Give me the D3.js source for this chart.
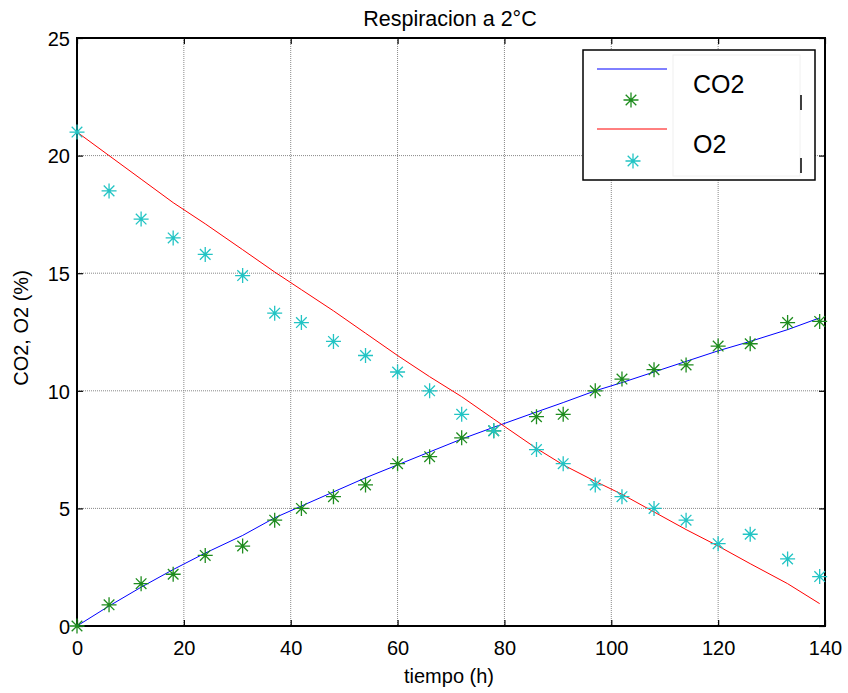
<!DOCTYPE html>
<html><head><meta charset="utf-8">
<script src="https://cdn.jsdelivr.net/npm/d3@7"></script>
<style>body{margin:0;background:#fff}svg{display:block}text{font-family:"Liberation Sans",Arial,sans-serif}</style>
</head><body>
<script>
const tPoints = [0,6,12,18,24,31,37,42,48,54,60,66,72,78,86,91,97,102,108,114,120,126,133,139];
const co2Measured = [0,0.9,1.8,2.2,3.0,3.4,4.5,5.0,5.5,6.0,6.9,7.2,8.0,8.3,8.9,9.0,10.0,10.5,10.9,11.1,11.9,12.0,12.9,12.95];
const o2Measured = [21.0,18.5,17.3,16.5,15.8,14.9,13.3,12.9,12.1,11.5,10.8,10.0,9.0,8.3,7.5,6.9,6.0,5.5,5.0,4.5,3.5,3.9,2.85,2.1];
const co2Model = [0,0.85,1.65,2.4,3.1,3.85,4.6,5.1,5.7,6.3,6.85,7.4,7.95,8.45,9.1,9.5,10.0,10.35,10.8,11.25,11.7,12.1,12.6,13.1];
const o2Model = [21.0,20.0,19.0,18.0,17.1,16.0,15.05,14.3,13.4,12.45,11.5,10.6,9.75,8.8,7.55,6.85,6.15,5.6,4.85,4.1,3.4,2.65,1.8,0.95];
const xTicks = [0,20,40,60,80,100,120,140];
const yTicks = [0,5,10,15,20,25];

const W=848,H=693;
const m={l:77,r:825,t:38,b:626};
const svg=d3.select("body").append("svg").attr("width",W).attr("height",H);
const x=d3.scaleLinear().domain([0,140]).range([m.l,m.r]);
const y=d3.scaleLinear().domain([0,25]).range([m.b,m.t]);

// grid
const g=svg.append("g");
g.selectAll(".gx").data(xTicks.slice(1,-1)).join("line")
 .attr("x1",d=>x(d)).attr("x2",d=>x(d)).attr("y1",m.t).attr("y2",m.b)
 .attr("stroke","#888").attr("stroke-width",1).attr("stroke-dasharray","1,1");
g.selectAll(".gy").data(yTicks.slice(1,-1)).join("line")
 .attr("y1",d=>y(d)).attr("y2",d=>y(d)).attr("x1",m.l).attr("x2",m.r)
 .attr("stroke","#888").attr("stroke-width",1).attr("stroke-dasharray","1,1");

// axes (ticks inward)
const ax=svg.append("g").attr("transform",`translate(0,${m.b})`)
 .call(d3.axisBottom(x).tickValues(xTicks).tickSizeInner(-6).tickSizeOuter(0));
const axt=svg.append("g").attr("transform",`translate(0,${m.t})`)
 .call(d3.axisTop(x).tickValues(xTicks).tickSizeInner(-6).tickSizeOuter(0).tickFormat(""));
const ay=svg.append("g").attr("transform",`translate(${m.l},0)`)
 .call(d3.axisLeft(y).tickValues(yTicks).tickSizeInner(-6).tickSizeOuter(0));
const ayr=svg.append("g").attr("transform",`translate(${m.r},0)`)
 .call(d3.axisRight(y).tickValues(yTicks).tickSizeInner(-6).tickSizeOuter(0).tickFormat(""));
[ax,axt,ay,ayr].forEach(a=>{
  a.select(".domain").remove();
  a.selectAll("line").attr("stroke","#000").attr("stroke-width",1.2);
  a.selectAll("text").attr("font-size",20).attr("fill","#000").attr("font-family","Liberation Sans, Arial, sans-serif");
});
ax.selectAll("text").attr("y",29).attr("dy",0);
ay.selectAll("text").attr("x",-7).attr("dy","0.36em");
svg.append("rect").attr("x",m.l).attr("y",m.t).attr("width",m.r-m.l).attr("height",m.b-m.t)
 .attr("fill","none").attr("stroke","#000").attr("stroke-width",2);

// lines
const line=(arr)=>d3.line().x((d,i)=>x(tPoints[i])).y(d=>y(d))(arr);
svg.append("path").attr("d",line(co2Model)).attr("fill","none").attr("stroke","#0000ff").attr("stroke-width",1);
svg.append("path").attr("d",line(o2Model)).attr("fill","none").attr("stroke","#ff0000").attr("stroke-width",1);

function star(sel,cx,cy,color){
  const r=7.5,d=5.3;
  const p=`M${cx-r},${cy}L${cx+r},${cy}M${cx},${cy-r}L${cx},${cy+r}M${cx-d},${cy-d}L${cx+d},${cy+d}M${cx-d},${cy+d}L${cx+d},${cy-d}`;
  sel.append("path").attr("d",p).attr("stroke",color).attr("stroke-width",1.3).attr("fill","none");
}
const sg=svg.append("g");
co2Measured.forEach((v,i)=>star(sg,x(tPoints[i]),y(v),"#1e8c1e"));
o2Measured.forEach((v,i)=>star(sg,x(tPoints[i]),y(v),"#22c4c4"));

// legend
const lg=svg.append("g");
lg.append("rect").attr("x",583).attr("y",50).attr("width",232).attr("height",130).attr("fill","#fff").attr("stroke","#000").attr("stroke-width",1.5);
lg.append("rect").attr("x",673).attr("y",55).attr("width",127).attr("height",121).attr("fill","#fff").attr("stroke","#f0f0f0").attr("stroke-width",1);
lg.append("line").attr("x1",597).attr("x2",667).attr("y1",69).attr("y2",69).attr("stroke","#0000ff").attr("stroke-width",1);
star(lg,631,100,"#1e8c1e");
lg.append("line").attr("x1",597).attr("x2",667).attr("y1",129).attr("y2",129).attr("stroke","#ff0000").attr("stroke-width",1);
star(lg,633,161,"#22c4c4");
lg.append("text").attr("x",693).attr("y",93).attr("font-size",25).attr("font-family","Carlito, 'Open Sans', sans-serif").text("CO2");
lg.append("text").attr("x",693).attr("y",153).attr("font-size",25).attr("font-family","Carlito, 'Open Sans', sans-serif").text("O2");
lg.append("line").attr("x1",801).attr("x2",801).attr("y1",95).attr("y2",110).attr("stroke","#000").attr("stroke-width",1.5);
lg.append("line").attr("x1",801).attr("x2",801).attr("y1",158).attr("y2",173).attr("stroke","#000").attr("stroke-width",1.5);

// titles
svg.append("text").attr("x",450).attr("y",26).attr("text-anchor","middle").attr("font-size",21.5).text("Respiracion a 2°C");
svg.append("text").attr("x",449).attr("y",683).attr("text-anchor","middle").attr("font-size",20).text("tiempo (h)");
svg.append("text").attr("transform","translate(28,328) rotate(-90)").attr("text-anchor","middle").attr("font-size",20).text("CO2, O2 (%)");
</script>
</body></html>
